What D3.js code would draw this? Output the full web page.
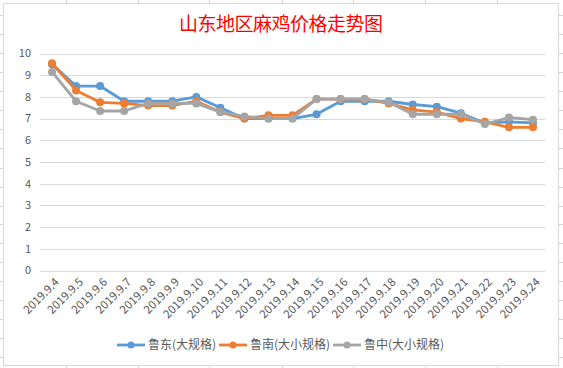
<!DOCTYPE html>
<html><head><meta charset="utf-8">
<script src="https://cdn.jsdelivr.net/npm/d3@7/dist/d3.min.js"></script>
<style>body{margin:0;background:#fff}svg{display:block}</style>
</head><body>
<script>
const categories = ["2019.9.4","2019.9.5","2019.9.6","2019.9.7","2019.9.8","2019.9.9","2019.9.10","2019.9.11","2019.9.12","2019.9.13","2019.9.14","2019.9.15","2019.9.16","2019.9.17","2019.9.18","2019.9.19","2019.9.20","2019.9.21","2019.9.22","2019.9.23","2019.9.24"];
const ludong = [9.5,8.5,8.5,7.8,7.8,7.8,8.0,7.5,7.0,7.0,7.0,7.2,7.8,7.8,7.8,7.65,7.55,7.25,6.8,6.85,6.8];
const lunan = [9.55,8.3,7.75,7.7,7.6,7.6,7.8,7.3,7.0,7.15,7.15,7.9,7.9,7.9,7.7,7.4,7.3,7.0,6.85,6.6,6.6];
const luzhong = [9.15,7.8,7.35,7.35,7.7,7.7,7.7,7.3,7.1,7.0,7.0,7.9,7.9,7.9,7.75,7.2,7.2,7.2,6.75,7.05,6.95];
const seriesNames = ["鲁东(大规格)","鲁南(大小规格)","鲁中(大小规格)"];
const colors = ["#5B9BD5","#ED7D31","#A5A5A5"];
const yTicks = [0,1,2,3,4,5,6,7,8,9,10];
const title = "山东地区麻鸡价格走势图";

const W=563,H=368;
const svg=d3.select("body").append("svg").attr("width",W).attr("height",H);
const font="'Noto Sans CJK SC','Microsoft YaHei',sans-serif";

// spreadsheet cell lines outside chart
const sheet=svg.append("g").attr("stroke","#D4D4D4").attr("stroke-width",1);
[66,138,209,282,353,425,497].forEach(x=>{
  sheet.append("line").attr("x1",x+0.5).attr("x2",x+0.5).attr("y1",0).attr("y2",3);
  sheet.append("line").attr("x1",x+0.5).attr("x2",x+0.5).attr("y1",366).attr("y2",H);
});
[15,34,53,72,91,110,129,148,168,187,206,224,243,262,281,300,319,338,357].forEach(y=>{
  sheet.append("line").attr("x1",0).attr("x2",3).attr("y1",y+0.5).attr("y2",y+0.5);
  sheet.append("line").attr("x1",559).attr("x2",W).attr("y1",y+0.5).attr("y2",y+0.5);
});
svg.append("rect").attr("x",3.5).attr("y",3.5).attr("width",555).attr("height",362)
  .attr("fill","#fff").attr("stroke","#D9D9D9");

svg.append("text").attr("x",281).attr("y",31).attr("text-anchor","middle")
  .attr("font-family",font).attr("font-size",19).attr("fill","#FF0000")
  .attr("textLength",204).attr("lengthAdjust","spacing").text(title);

const x=d3.scalePoint().domain(categories).range([40,545]).padding(0.5);
const y=d3.scaleLinear().domain([0,10]).range([270.5,53.5]);

const grid=svg.append("g");
yTicks.forEach(t=>{
  grid.append("line").attr("x1",40).attr("x2",545).attr("y1",Math.round(y(t))+0.5).attr("y2",Math.round(y(t))+0.5)
    .attr("stroke","#D9D9D9").attr("stroke-width",1);
  grid.append("text").attr("x",31).attr("y",y(t)).attr("dy","0.35em").attr("text-anchor","end")
    .attr("font-family",font).attr("font-size",11).attr("fill","#595959").text(t);
});

const xl=svg.append("g");
categories.forEach(c=>{
  xl.append("text").attr("transform",`translate(${x(c)+5},${280}) rotate(-45)`)
    .attr("text-anchor","end").attr("dy","0.35em")
    .attr("font-family",font).attr("font-size",11.5).attr("fill","#595959").text(c);
});

const data=[ludong,lunan,luzhong];
const line=d3.line().x((d,i)=>x(categories[i])).y(d=>y(d));
data.forEach((s,k)=>{
  const g=svg.append("g");
  g.append("path").datum(s).attr("d",line).attr("fill","none").attr("stroke",colors[k])
    .attr("stroke-width",2.8).attr("stroke-linejoin","round").attr("stroke-linecap","round");
  g.selectAll("circle").data(s).join("circle").attr("cx",(d,i)=>x(categories[i])).attr("cy",d=>y(d))
    .attr("r",4).attr("fill",colors[k]);
});

const legX=[117,219,333];
const lg=svg.append("g");
seriesNames.forEach((n,k)=>{
  lg.append("line").attr("x1",legX[k]).attr("x2",legX[k]+28).attr("y1",345).attr("y2",345)
    .attr("stroke",colors[k]).attr("stroke-width",2.8);
  lg.append("circle").attr("cx",legX[k]+14).attr("cy",345).attr("r",3.5).attr("fill",colors[k]);
  lg.append("text").attr("x",legX[k]+31).attr("y",345).attr("dy","0.35em")
    .attr("font-family",font).attr("font-size",12).attr("fill","#595959").text(n);
});
</script>
</body></html>
